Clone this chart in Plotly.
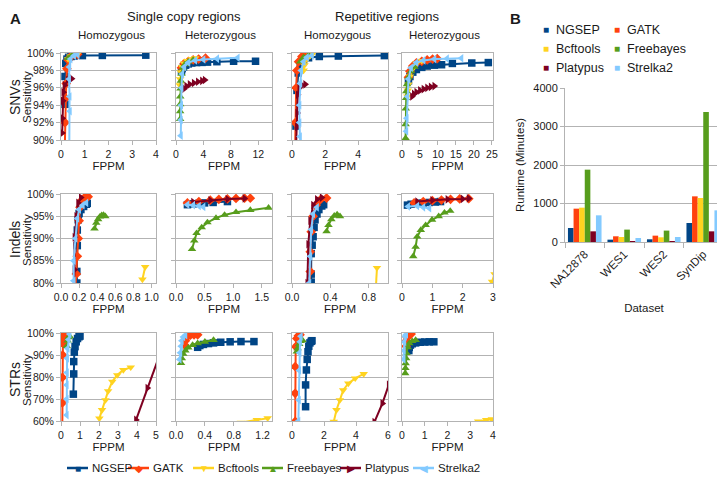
import plotly.graph_objects as go

W, H = 725, 478
OFF = 8  # default page margin: the figure starts 8 px in from the window corner
FW, FH = W - OFF, H - OFF

TOOLS = ["NGSEP", "GATK", "Bcftools", "Freebayes", "Platypus", "Strelka2"]
COLORS = ["#004586", "#ff420e", "#ffd320", "#579d1c", "#7e0021", "#83caff"]
SYMBOLS = ["square", "diamond", "triangle-down", "triangle-up", "triangle-right", "triangle-left"]
GLYPHS = ["■", "◆", "▼", "▲", "▶", "◀"]

# ---- panel A data: tool -> (FPPM, sensitivity %) ----
snv_sc_hom = {
    "NGSEP": ([0.17, 0.17, 0.2, 0.25, 0.32, 0.42, 0.55, 0.9, 1.74, 3.57],
              [94.1, 97.3, 98.8, 99.3, 99.5, 99.6, 99.65, 99.7, 99.72, 99.75]),
    "GATK": ([0.15, 0.17, 0.2, 0.22, 0.25, 0.3, 0.4, 0.55, 0.7],
             [88, 92, 94.8, 96.5, 98.2, 99.2, 99.6, 99.8, 99.85]),
    "Bcftools": ([0.3, 0.4, 0.55, 0.7], [99.3, 99.6, 99.8, 99.9]),
    "Freebayes": ([0.3, 0.45, 0.6], [99.4, 99.7, 99.85]),
    "Platypus": ([0.05, 0.06, 0.08, 0.1, 0.15, 0.3, 0.45],
                 [90.8, 92.5, 94.5, 95.5, 96.3, 96.9, 97.05]),
    "Strelka2": ([0.35, 0.37, 0.36, 0.34, 0.35, 0.4, 0.55, 0.7],
                 [89.5, 93.3, 95, 97, 98.4, 99.3, 99.7, 99.8]),
}
snv_sc_het = {
    "NGSEP": ([0.8, 0.9, 1.1, 1.4, 1.8, 2.3, 3.0, 3.8, 4.6, 5.96, 8.4, 11.6],
              [97.9, 98.2, 98.4, 98.6, 98.75, 98.85, 98.9, 98.92, 98.95, 99.0, 99.05, 99.05]),
    "GATK": ([0.8, 1.2, 1.8, 2.5, 3.3, 4.3], [98.3, 98.8, 99.05, 99.2, 99.3, 99.4]),
    "Bcftools": ([0.55, 0.6, 0.7, 0.9, 1.2, 1.6, 2.2, 2.8],
                 [96.3, 97.0, 97.8, 98.4, 98.8, 99.1, 99.3, 99.4]),
    "Freebayes": ([0.6, 0.6, 0.6, 0.62, 0.65, 0.7, 0.8, 1.0, 1.3, 1.8, 2.5],
                  [92.4, 93.3, 94.1, 95.0, 95.9, 96.8, 97.6, 98.3, 98.7, 99.0, 99.2]),
    "Platypus": ([1.2, 1.5, 2.0, 2.6, 3.2, 3.8, 4.2],
                 [95.9, 96.2, 96.4, 96.55, 96.7, 96.8, 96.9]),
    "Strelka2": ([0.7, 0.7, 0.75, 0.8, 0.9, 1.2, 1.8, 2.8, 4.0, 6.0, 9.0],
                 [90.5, 92.3, 94, 96, 97.6, 98.4, 98.9, 99.15, 99.25, 99.35, 99.45]),
}
snv_rep_hom = {
    "NGSEP": ([0.24, 0.3, 0.38, 0.5, 0.7, 1.0, 1.65, 2.8, 5.58],
              [91.6, 95.7, 97.7, 98.7, 99.2, 99.45, 99.6, 99.65, 99.7]),
    "GATK": ([0.18, 0.2, 0.25, 0.3, 0.4, 0.6, 0.9, 1.1],
             [88, 92, 96, 98, 99, 99.6, 99.85, 99.9]),
    "Bcftools": ([0.7, 0.75, 0.9, 1.1, 1.25], [98.0, 98.6, 99.3, 99.7, 99.9]),
    "Freebayes": ([0.5, 0.7, 1.0], [99.0, 99.5, 99.75]),
    "Platypus": ([0.25, 0.3, 0.32, 0.35, 0.45, 0.6, 0.8],
                 [89.5, 91.5, 93.1, 95.2, 96.0, 96.3, 96.4]),
    "Strelka2": ([0.5, 0.48, 0.45, 0.45, 0.5, 0.55, 0.7, 0.9, 1.2],
                 [89.5, 90.4, 92, 94, 96.5, 98, 99, 99.5, 99.7]),
}
snv_rep_het = {
    "NGSEP": ([1.8, 2.2, 3, 4, 5.5, 7, 9, 11, 14, 19.4, 24],
              [96.8, 97.3, 97.8, 98.1, 98.35, 98.5, 98.6, 98.65, 98.8, 98.85, 98.9]),
    "GATK": ([1.8, 2.2, 3, 4, 5.5, 7, 8.5, 9.8],
             [97.2, 97.9, 98.5, 98.85, 99.05, 99.2, 99.3, 99.35]),
    "Bcftools": ([1.5, 1.6, 1.8, 2.2, 3, 4, 5.5], [95.0, 95.7, 96.4, 97.3, 98.2, 98.8, 99.1]),
    "Freebayes": ([1.0, 1.0, 1.05, 1.1, 1.2, 1.4, 1.8, 2.5, 3.5],
                  [90.2, 91.8, 93.6, 94.8, 95.6, 96.4, 97.2, 97.9, 98.4]),
    "Platypus": ([2.8, 3.3, 4, 5, 6, 7, 8, 9],
                 [95.0, 95.3, 95.5, 95.7, 95.85, 96.0, 96.1, 96.2]),
    "Strelka2": ([1.2, 1.3, 1.5, 1.8, 2.5, 4, 6, 9, 12.5, 16.5],
                 [91, 92.5, 95, 97, 98.3, 98.9, 99.15, 99.3, 99.35, 99.4]),
}
indel_sc_hom = {
    "NGSEP": ([0.175, 0.175, 0.18, 0.18, 0.19, 0.2, 0.22, 0.25, 0.28, 0.29],
              [80.0, 82.6, 88.4, 91.9, 94.2, 95.6, 96.5, 97.2, 97.7, 97.9]),
    "GATK": ([0.16, 0.17, 0.18, 0.19, 0.2, 0.21, 0.23, 0.26, 0.3],
             [79, 82, 86, 90, 94, 97, 98.6, 99.2, 99.4]),
    "Bcftools": ([0.9, 0.93], [80.8, 83.6]),
    "Freebayes": ([0.37, 0.39, 0.41, 0.43, 0.45, 0.47, 0.49],
                  [92.2, 93.5, 94.3, 94.9, 95.2, 95.3, 95.0]),
    "Platypus": ([0.14, 0.15, 0.15, 0.17, 0.19, 0.22], [79, 83, 90.3, 95, 98, 99.2]),
    "Strelka2": ([0.14, 0.14, 0.16, 0.18, 0.2, 0.24, 0.28],
                 [80.5, 85, 90, 94.5, 96.5, 97.5, 98]),
}
indel_sc_het = {
    "NGSEP": ([0.2, 0.3, 0.4, 0.5, 0.65, 0.9], [97.6, 97.8, 97.9, 98.0, 98.1, 98.3]),
    "GATK": ([0.2, 0.4, 0.6, 0.75, 0.9, 1.05, 1.2, 1.3],
             [98.0, 98.3, 98.6, 98.8, 98.9, 99.0, 99.05, 99.05]),
    "Bcftools": ([], []),
    "Freebayes": ([0.28, 0.32, 0.36, 0.45, 0.55, 0.7, 0.85, 1.05, 1.3, 1.62],
                  [87.6, 89.5, 91.2, 92.5, 93.6, 94.6, 95.3, 95.9, 96.4, 96.9]),
    "Platypus": ([0.3, 0.6, 0.9, 1.2], [98.2, 98.6, 98.85, 99.0]),
    "Strelka2": ([0.2, 0.3, 0.4, 0.48], [97.6, 97.5, 97.3, 97.1]),
}
indel_rep_hom = {
    "NGSEP": ([0.2, 0.2, 0.2, 0.21, 0.22, 0.23, 0.24, 0.26, 0.28, 0.31, 0.33],
              [80.2, 82, 86.6, 88.5, 90.4, 92.5, 94.2, 95.5, 96.5, 97.3, 97.6]),
    "GATK": ([0.18, 0.19, 0.19, 0.2, 0.22, 0.25, 0.29, 0.36],
             [79, 82.6, 87, 91.5, 95, 97.5, 98.6, 99.1]),
    "Bcftools": ([0.875, 0.885], [79.5, 83.4]),
    "Freebayes": ([0.36, 0.38, 0.41, 0.44, 0.47, 0.5], [91.6, 93, 94.3, 95.1, 95.4, 95.0]),
    "Platypus": ([0.16, 0.17, 0.19, 0.22, 0.26, 0.31], [80, 88.7, 94, 97.5, 98.8, 99.2]),
    "Strelka2": ([0.18, 0.19, 0.2, 0.22, 0.26], [80, 86, 92, 95.5, 97]),
}
indel_rep_het = {
    "NGSEP": ([0.18, 0.3, 0.5, 0.7, 0.9, 1.1, 1.27], [97.5, 97.7, 97.9, 98.0, 98.1, 98.2, 98.3]),
    "GATK": ([0.4, 0.7, 1.0, 1.3, 1.6, 1.9, 2.2], [98.0, 98.3, 98.5, 98.65, 98.8, 98.9, 98.95]),
    "Bcftools": ([2.97, 3.05], [80.3, 82]),
    "Freebayes": ([0.37, 0.45, 0.5, 0.62, 0.78, 0.99, 1.21, 1.4, 1.59],
                  [86.0, 88.1, 90.4, 91.9, 93.0, 94.2, 95.0, 95.8, 96.2]),
    "Platypus": ([0.5, 1.0, 1.5, 2.0, 2.2], [98.3, 98.6, 98.8, 98.9, 99.0]),
    "Strelka2": ([0.2, 0.5, 0.7, 0.9], [97.2, 97.3, 97.0, 96.8]),
}
str_sc_hom = {
    "NGSEP": ([0.65, 0.67, 0.67, 0.7, 0.74, 0.8, 0.87, 0.95, 1.0],
              [72.2, 81.4, 87, 91.3, 93.8, 96, 97.5, 98.3, 98.6]),
    "GATK": ([0.07, 0.07, 0.07, 0.08, 0.1, 0.12, 0.15, 0.2],
             [58, 68.2, 79.8, 90.0, 95.3, 97.5, 99.0, 99.6]),
    "Bcftools": ([2.02, 2.16, 2.34, 2.48, 2.7, 2.96, 3.28, 3.67],
                 [61.2, 65, 69.5, 73.6, 77.9, 80.9, 83.2, 84.4]),
    "Freebayes": ([0.3, 0.35, 0.4, 0.45], [94, 96.5, 98, 98.6]),
    "Platypus": ([3.95, 4.55, 5.15], [60.5, 75, 89]),
    "Strelka2": ([0.3, 0.3, 0.3, 0.31, 0.32, 0.35, 0.4, 0.45],
                 [62.7, 70, 76.4, 82, 88.5, 93, 97, 99.5]),
}
str_sc_het = {
    "NGSEP": ([0.3, 0.33, 0.38, 0.45, 0.52, 0.62, 0.75, 0.9, 1.08],
              [93.5, 94.3, 94.8, 95.2, 95.5, 95.8, 96.0, 96.1, 96.1]),
    "GATK": ([0.12, 0.13, 0.16, 0.2, 0.25, 0.3], [94.5, 96.5, 98.3, 99.0, 99.2, 99.2]),
    "Bcftools": ([0.9, 1.12, 1.27], [59.3, 60.5, 61.3]),
    "Freebayes": ([0.07, 0.08, 0.1, 0.13, 0.17, 0.23, 0.3, 0.4, 0.52],
                  [86.3, 88.5, 90.5, 92, 93.3, 94.5, 95.3, 96, 96.8]),
    "Platypus": ([], []),
    "Strelka2": ([0.05, 0.06, 0.07, 0.08, 0.1, 0.13], [88, 91, 94, 96.5, 98.2, 99]),
}
str_rep_hom = {
    "NGSEP": ([0.85, 0.85, 0.9, 0.95, 1.0, 1.05, 1.12, 1.2, 1.25],
              [66.5, 76.4, 83.2, 88, 91.5, 94, 95.5, 96.2, 96.5]),
    "GATK": ([0.2, 0.2, 0.2, 0.23, 0.3, 0.4, 0.5], [59.8, 72.6, 84.7, 93.8, 97.5, 98.8, 99.2]),
    "Bcftools": ([2.61, 2.78, 2.99, 3.2, 3.52, 3.95, 4.48],
                 [59.7, 65, 69.5, 74, 77.1, 79.4, 81.4]),
    "Freebayes": ([0.3, 0.35, 0.45, 0.55, 0.65], [91.5, 93, 95, 96.3, 96.8]),
    "Platypus": ([5.15, 5.65, 6.05], [59.5, 68, 76.5]),
    "Strelka2": ([0.4, 0.43, 0.45, 0.47, 0.5, 0.55], [60, 69.5, 83, 91, 96, 98.5]),
}
str_rep_het = {
    "NGSEP": ([0.3, 0.32, 0.37, 0.45, 0.6, 0.8, 1.0, 1.2, 1.4],
              [92.0, 93.5, 94.5, 95.1, 95.5, 95.8, 95.9, 96.0, 96.0]),
    "GATK": ([0.18, 0.2, 0.23, 0.28, 0.35, 0.4], [94, 96.5, 98, 99, 99.4, 99.5]),
    "Bcftools": ([3.35, 3.7, 3.95], [59.8, 60.5, 60.8]),
    "Freebayes": ([0.14, 0.15, 0.16, 0.18, 0.2, 0.25, 0.32, 0.45, 0.6],
                  [81.7, 84, 86.2, 88.5, 90.8, 93.5, 95.3, 96.3, 96.8]),
    "Platypus": ([], []),
    "Strelka2": ([0.07, 0.08, 0.1, 0.13, 0.18], [88, 92, 96, 98.5, 99.3]),
}

# ---- panel B data ----
DATASETS = ["NA12878", "WES1", "WES2", "SynDip"]
RUNTIME = {
    "NGSEP": [364, 61, 70, 494],
    "GATK": [866, 148, 165, 1186],
    "Bcftools": [892, 130, 122, 1143],
    "Freebayes": [1879, 322, 296, 3377],
    "Platypus": [277, 10, 17, 277],
    "Strelka2": [693, 104, 130, 822],
}

FONT = "Liberation Sans, Arial, sans-serif"
TXT = "#1a1a1a"
GRAY = "#b3b3b3"

# positions below are window pixels
ROWS_PX = [(53, 140), (194, 283), (333, 421)]
ROW_Y = [(90, 100, 2), (80, 100, 5), (60, 100, 10)]
COLS_PX = [(61, 156), (176, 272), (292, 388), (402, 493)]

# (data, row, col, xmax, dtick, tickformat)
PANELS = [
    (snv_sc_hom, 0, 0, 4, 1, ""), (snv_sc_het, 0, 1, 14, 4, ""),
    (snv_rep_hom, 0, 2, 5.8, 2, ""), (snv_rep_het, 0, 3, 25.3, 5, ""),
    (indel_sc_hom, 1, 0, 1.05, 0.2, ".1f"), (indel_sc_het, 1, 1, 1.68, 0.5, ".1f"),
    (indel_rep_hom, 1, 2, 1.0, 0.4, ".1f"), (indel_rep_het, 1, 3, 3, 1, ""),
    (str_sc_hom, 2, 0, 5, 1, ""), (str_sc_het, 2, 1, 1.33, 0.4, ".1f"),
    (str_rep_hom, 2, 2, 6, 2, ""), (str_rep_het, 2, 3, 4, 1, ""),
]


def px(x):
    return (x - OFF) / FW


def py(y):
    return 1 - (y - OFF) / FH


def xd(a, b):
    return [px(a), px(b)]


def yd(top, bottom):
    return [py(bottom), py(top)]


fig = go.Figure()
layout = {}

for k, (data, r, c, xmax, dt, fmt) in enumerate(PANELS, start=1):
    sfx = "" if k == 1 else str(k)
    for i, tool in enumerate(TOOLS):
        xs, ys = data[tool]
        if not xs:
            continue
        fig.add_trace(go.Scatter(
            x=xs, y=ys, mode="lines+markers", name=tool, showlegend=False,
            line=dict(color=COLORS[i], width=2),
            marker=dict(symbol=SYMBOLS[i], size=7.5, color=COLORS[i]),
            xaxis="x" + sfx, yaxis="y" + sfx,
        ))
    ylo, yhi, ydt = ROW_Y[r]
    layout["xaxis" + sfx] = dict(
        domain=xd(*COLS_PX[c]), range=[0, xmax], tick0=0, dtick=dt, tickformat=fmt,
        showgrid=False, zeroline=False, showline=True, mirror=True, linecolor=GRAY,
        ticks="outside", ticklen=4, tickcolor=GRAY, anchor="y" + sfx, automargin=False,
        tickfont=dict(family=FONT, size=10.5, color=TXT),
        title=dict(text="FPPM", font=dict(family=FONT, size=11.5, color=TXT), standoff=3),
    )
    layout["yaxis" + sfx] = dict(
        domain=yd(*ROWS_PX[r]), range=[ylo, yhi], tick0=ylo, dtick=ydt, ticksuffix="%",
        showgrid=True, gridcolor=GRAY, gridwidth=1, zeroline=False, showline=True,
        mirror=True, linecolor=GRAY, ticks="outside", ticklen=4, tickcolor=GRAY,
        showticklabels=(c == 0), anchor="x" + sfx, automargin=False,
        tickfont=dict(family=FONT, size=10.5, color=TXT),
    )

# panel B: runtime bars
for i, tool in enumerate(TOOLS):
    fig.add_trace(go.Bar(
        x=DATASETS, y=RUNTIME[tool], name=tool, showlegend=False,
        marker=dict(color=COLORS[i], line_width=0), xaxis="x13", yaxis="y13",
    ))
layout["xaxis13"] = dict(
    domain=xd(565, 723), anchor="y13", type="category", tickangle=-45, automargin=False,
    showline=True, linecolor=GRAY, ticks="outside", tickson="boundaries", ticklen=5,
    tickcolor=GRAY, tickfont=dict(family=FONT, size=11.5, color=TXT),
    title=dict(text="Dataset", font=dict(family=FONT, size=11.5, color=TXT), standoff=14),
)
layout["yaxis13"] = dict(
    domain=yd(88, 242), anchor="x13", range=[0, 4000], dtick=1000, automargin=False,
    showgrid=True, gridcolor=GRAY, zeroline=False, showline=True, linecolor=GRAY,
    ticks="outside", ticklen=4, tickcolor=GRAY,
    tickfont=dict(family=FONT, size=11, color=TXT),
    title=dict(text="Runtime (Minutes)", font=dict(family=FONT, size=11.5, color=TXT), standoff=6),
)

ann = []
shapes = []


def text(x, y, s, size, angle=0, bold=False, anchor="center", color=TXT):
    ann.append(dict(
        x=px(x), y=py(y), xref="paper", yref="paper", text=f"<b>{s}</b>" if bold else s,
        showarrow=False, textangle=angle, xanchor=anchor, yanchor="middle",
        font=dict(family=FONT, size=size, color=color),
    ))


text(15, 18, "A", 15, bold=True)
text(515, 18, "B", 15, bold=True)
text(184, 17, "Single copy regions", 13)
text(387, 17, "Repetitive regions", 13)
for cx, s in [(112, "Homozygous"), (220, "Heterozygous"), (337, "Homozygous"), (444, "Heterozygous")]:
    text(cx, 35, s, 11.5)
for cy, s in [(97, "SNVs"), (240, "Indels"), (380, "STRs")]:
    text(15, cy, s, 14, angle=-90)
    text(27, cy, "Sensitivity", 11.5, angle=-90)

# bottom legend (panel A)
for i, (tool, sx) in enumerate(zip(TOOLS, [67, 128, 193, 262, 340, 413])):
    shapes.append(dict(type="line", xref="paper", yref="paper",
                       x0=px(sx), x1=px(sx + 21), y0=py(468), y1=py(468),
                       line=dict(color=COLORS[i], width=2.5)))
    text(sx + 10.5, 468, GLYPHS[i], 10, color=COLORS[i])
    text(sx + 23, 468, tool, 11.5, anchor="left")

# panel B legend
for i, tool in enumerate(TOOLS):
    bx = 546 if i % 2 == 0 else 617
    by = 30 + 19 * (i // 2)
    text(bx, by, "■", 10, color=COLORS[i])
    text(bx + 8, by, tool, 12.5, anchor="left")

fig.update_layout(
    **layout,
    width=FW, height=FH,
    margin=dict(l=0, r=0, t=0, b=0, autoexpand=False),
    paper_bgcolor="white", plot_bgcolor="white",
    barmode="group", bargap=0.15, bargroupgap=0,
    annotations=ann, shapes=shapes,
    font=dict(family=FONT, color=TXT),
)

fig.write_html("out.html")
